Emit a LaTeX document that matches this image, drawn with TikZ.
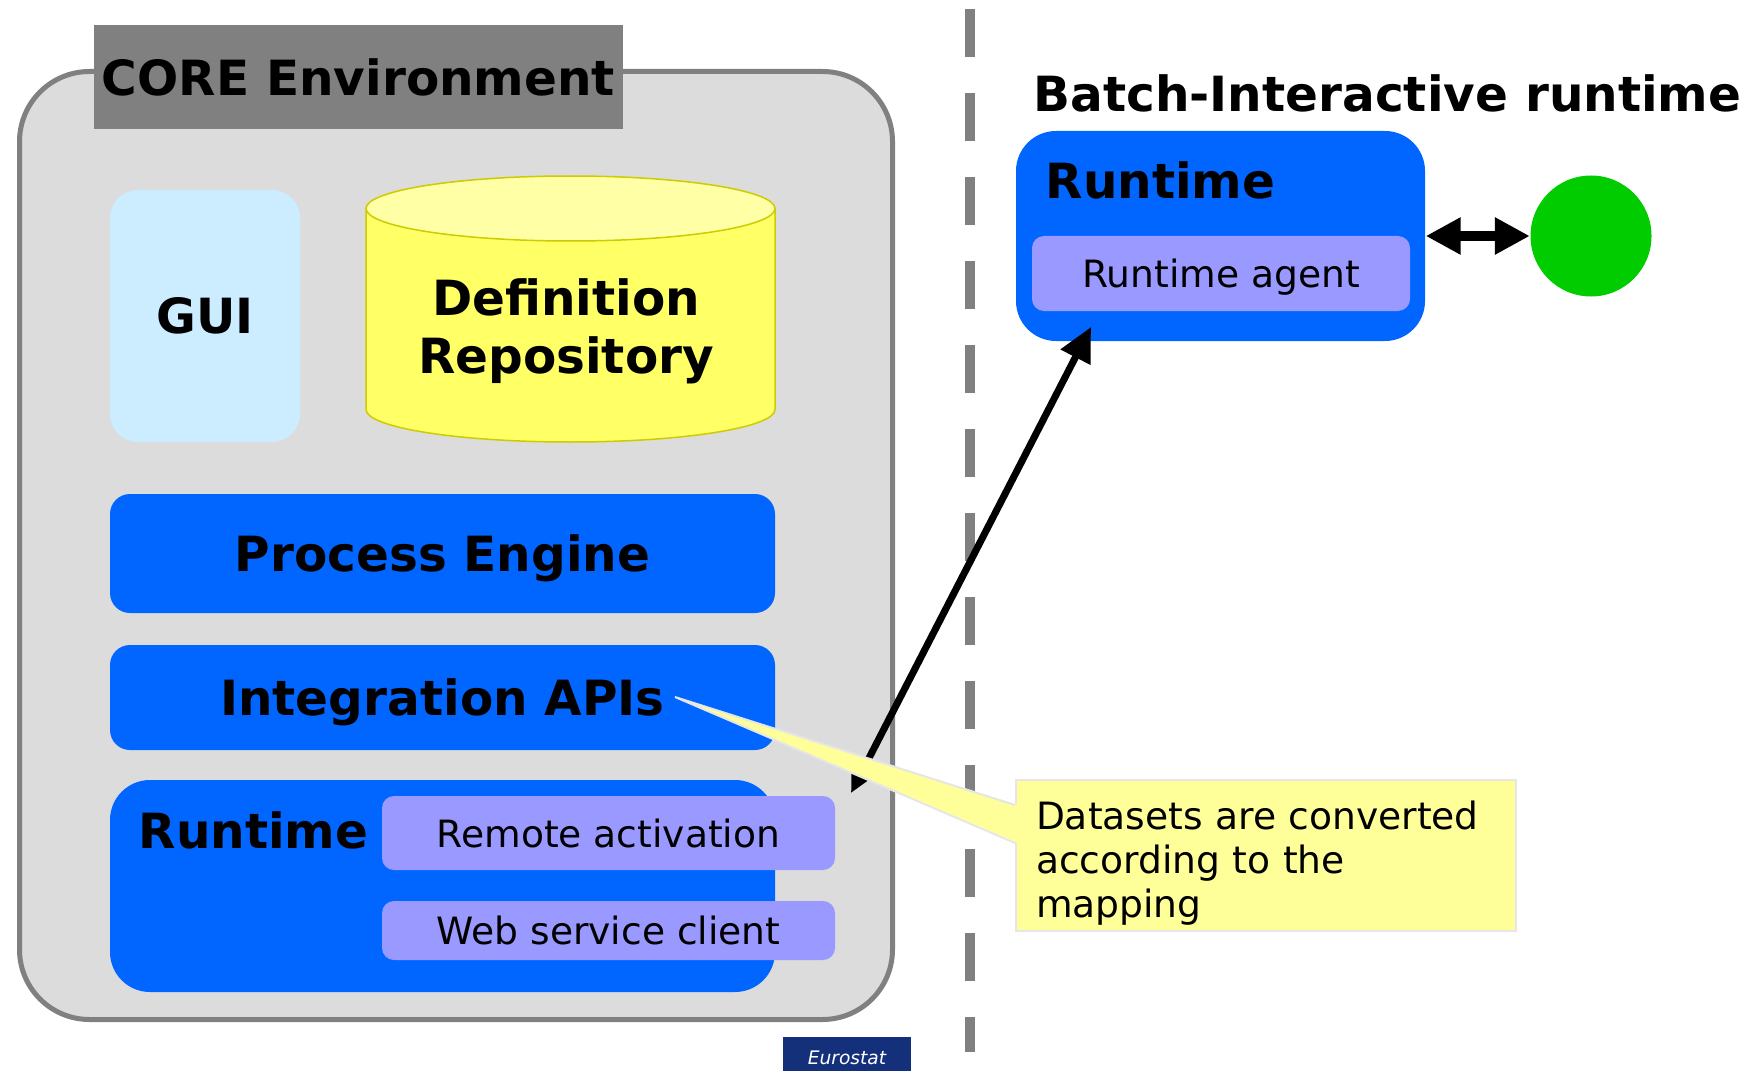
\documentclass[tikz,border=0pt]{standalone}
\usepackage{fontspec}
\setmainfont{DejaVu Sans}
\usetikzlibrary{arrows.meta}

\definecolor{coregray}{HTML}{DCDCDC}
\definecolor{framegray}{HTML}{808080}
\definecolor{guiblue}{HTML}{CCECFF}
\definecolor{cylbody}{HTML}{FFFF66}
\definecolor{cyltop}{HTML}{FFFFA6}
\definecolor{cylline}{HTML}{CCCC00}
\definecolor{engblue}{HTML}{0066FF}
\definecolor{lilac}{HTML}{9999FF}
\definecolor{okgreen}{HTML}{00CC00}
\definecolor{notefill}{HTML}{FFFF99}
\definecolor{noteline}{HTML}{E6E6E6}
\definecolor{estatblue}{HTML}{14307A}

\newcommand{\hdfont}{\fontsize{13.8}{16.5}\selectfont\bfseries}
\newcommand{\txfont}{\fontsize{10.7}{12.5}\selectfont}

\begin{document}
\begin{tikzpicture}[>={Triangle[length=0.35cm,width=0.35cm]},
    bluebox/.style={fill=engblue, rounded corners=0.2cm, inner sep=0pt, text depth=0pt, font=\hdfont},
    lilacbox/.style={fill=lilac, rounded corners=0.12cm, inner sep=0pt, text depth=0pt, minimum width=4.53cm, font=\txfont}]

    \useasboundingbox (0,0) rectangle (17.55,-10.71);

    % 1. CORE environment frame and its header
    \draw[fill=coregray, draw=framegray, line width=0.05cm, rounded corners=0.7cm]
        (0.195,-0.715) rectangle (8.925,-10.195);
    \node[fill=framegray, minimum width=5.29cm, minimum height=1.04cm, inner sep=0pt, font=\hdfont]
        (corehead) at (3.585,-0.77) {CORE Environment};

    % 2. GUI and the definition repository (cylinder)
    \node[fill=guiblue, rounded corners=0.28cm, minimum width=1.9cm, minimum height=2.52cm, inner sep=0pt, font=\hdfont]
        (gui) at (2.05,-3.16) {GUI};

    \filldraw[fill=cylbody, draw=cylline, line width=0.015cm]
        (3.66,-2.085) -- (3.66,-4.095) arc (180:360:2.045cm and 0.325cm) -- (7.75,-2.085) -- cycle;
    \filldraw[fill=cyltop, draw=cylline, line width=0.015cm] (5.705,-2.085) ellipse (2.045cm and 0.325cm);
    \node[align=center, font=\hdfont] (defrepo) at (5.66,-3.31) {Definition\\Repository};

    % 3. Engine, APIs and the local runtime
    \node[bluebox, minimum width=6.65cm, minimum height=1.19cm] (engine) at (4.425,-5.535) {Process Engine};
    \node[bluebox, minimum width=6.65cm, minimum height=1.05cm] (apis) at (4.425,-6.975) {Integration APIs};
    \node[bluebox, rounded corners=0.4cm, minimum width=6.65cm, minimum height=2.12cm] (rtleft) at (4.425,-8.86) {};
    \node[anchor=west, inner sep=0pt, font=\hdfont] (rtlefttxt) at (1.38,-8.30) {Runtime};
    \node[lilacbox, minimum height=0.74cm] (remact) at (6.085,-8.33) {Remote activation};
    \node[lilacbox, minimum height=0.59cm] (websvc) at (6.085,-9.305) {Web service client};

    % 4. Dashed separator
    \draw[draw=framegray, line width=0.1cm, dash pattern=on 0.48cm off 0.36cm] (9.70,-0.09) -- (9.70,-10.52);

    % 5. Batch-interactive runtime
    \node[font=\hdfont, inner sep=0pt] (batch) at (13.875,-0.93) {Batch-Interactive runtime};
    \node[bluebox, rounded corners=0.4cm, minimum width=4.09cm, minimum height=2.10cm] (rtright) at (12.205,-2.36) {};
    \node[anchor=west, inner sep=0pt, font=\hdfont] (rtrighttxt) at (10.45,-1.80) {Runtime};
    \node[lilacbox, minimum width=3.78cm, minimum height=0.75cm] (agent) at (12.21,-2.735) {Runtime agent};
    \node[circle, fill=okgreen, minimum size=1.21cm, inner sep=0pt] (dot) at (15.91,-2.36) {};
    \draw[<->, line width=0.1cm] (rtright.east) -- (dot.west);

    % 6. Link between the two runtimes
    \coordinate (abot) at (8.51,-7.93);
    \coordinate (atop) at (10.91,-3.27);
    \draw[{Triangle[length=0.34cm,width=0.32cm]}-{Triangle[length=0.34cm,width=0.32cm]}, line width=0.07cm]
        (abot) -- (atop);

    % 7. Callout
    \coordinate (ptip) at (6.75,-6.97);
    \node[fill=notefill, draw=noteline, line width=0.02cm, minimum width=5.0cm, minimum height=1.51cm,
        text width=4.6cm, align=left, font=\txfont, inner xsep=0.2cm, inner ysep=0pt]
        (note) at (12.66,-8.555) {\rule{0pt}{0.43cm}Datasets are converted\\according to the\\mapping};
    \fill[notefill] ([shift={(0.03,0.505)}]note.west) -- (ptip) -- ([shift={(0.03,0.125)}]note.west) -- cycle;
    \draw[noteline, line width=0.02cm] ([yshift=0.505cm]note.west) -- (ptip) -- ([yshift=0.125cm]note.west);

    % 8. Footer tag
    \node[fill=estatblue, text=white, minimum width=1.28cm, minimum height=0.42cm, inner sep=0pt, anchor=north,
        font=\fontsize{5.3}{6}\selectfont\itshape] (estat) at (8.47,-10.36) {Eurostat};

\end{tikzpicture}
\end{document}
